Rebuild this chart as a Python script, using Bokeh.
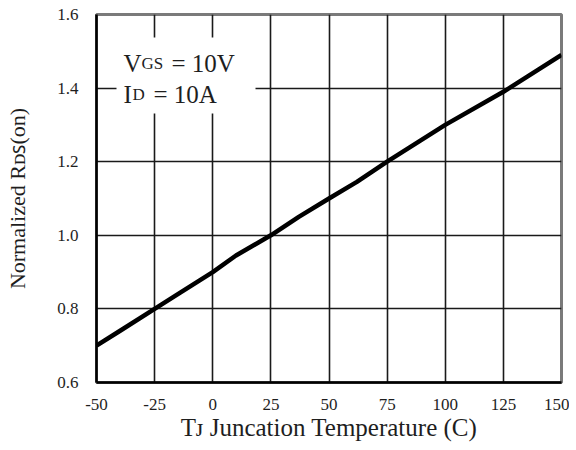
import math
from bokeh.plotting import figure
from bokeh.models import ColumnDataSource, Label, BoxAnnotation, FixedTicker
from bokeh.embed import file_html
from bokeh.resources import INLINE

# ---- data ----
temps = [-50, -40, -25, -15, 0, 10, 25, 37, 50, 62, 75, 100, 125, 150]
rds_on = [0.70, 0.74, 0.80, 0.84, 0.90, 0.945, 1.00, 1.05, 1.10, 1.145, 1.20, 1.30, 1.39, 1.49]
x_ticks = [-50, -25, 0, 25, 50, 75, 100, 125, 150]
x_tick_labels = ["-50", "-25", "0", "25", "50", "75", "100", "125", "150"]
y_ticks = [0.6, 0.8, 1.0, 1.2, 1.4, 1.6]
y_tick_labels = ["0.6", "0.8", "1.0", "1.2", "1.4", "1.6"]
x_title = "T\u1d0a Juncation Temperature (C)"
y_title = "Normalized R\u1d05\ua731(on)"

FONT = "Liberation Serif"
TXT = "#1e1e1e"

# frame geometry (in picture pixels) used to place annotations
FL, FR, FT, FB = 96, 561, 14, 382
X0, X1, Y0, Y1 = -50, 150, 0.6, 1.6


def px_x(px):
    return X0 + (px - FL) / (FR - FL) * (X1 - X0)


def px_y(py):
    return Y0 + (FB - py) / (FB - FT) * (Y1 - Y0)


p = figure(
    frame_width=FR - FL, frame_height=FB - FT,
    min_border_left=FL, min_border_right=8,
    min_border_top=FT, min_border_bottom=60,
    x_range=(X0, X1), y_range=(Y0, Y1),
    output_backend="svg", toolbar_location=None,
)
p.background_fill_color = "white"
p.border_fill_color = "white"
p.outline_line_color = "#7a7a7a"
p.outline_line_width = 3

for ax in (p.xaxis[0], p.yaxis[0]):
    ax.major_tick_line_color = None
    ax.minor_tick_line_color = None
    ax.axis_line_color = "black"
    ax.axis_line_width = 2.5
    ax.major_label_text_font = FONT
    ax.major_label_text_font_size = "17px"
    ax.major_label_text_color = TXT
    ax.axis_label_text_font = FONT
    ax.axis_label_text_font_style = "normal"
    ax.axis_label_text_color = TXT

p.xaxis[0].ticker = FixedTicker(ticks=x_ticks)
p.xaxis[0].major_label_overrides = {t: l for t, l in zip(x_ticks, x_tick_labels)}
p.xaxis[0].major_label_standoff = 10
p.xaxis[0].axis_label = x_title
p.xaxis[0].axis_label_text_font_size = "25px"
p.xaxis[0].axis_label_standoff = 1

p.yaxis[0].ticker = FixedTicker(ticks=y_ticks)
p.yaxis[0].major_label_overrides = {t: l for t, l in zip(y_ticks, y_tick_labels)}
p.yaxis[0].major_label_standoff = 12
p.yaxis[0].axis_label = y_title
p.yaxis[0].axis_label_text_font_size = "22px"
p.yaxis[0].axis_label_standoff = 24

p.xgrid[0].ticker = FixedTicker(ticks=x_ticks)
p.ygrid[0].ticker = FixedTicker(ticks=y_ticks)
for g in (p.xgrid[0], p.ygrid[0]):
    g.grid_line_color = "#1a1a1a"
    g.grid_line_width = 1.6

src = ColumnDataSource(data=dict(t=temps, r=rds_on))
p.line("t", "r", source=src, line_color="black", line_width=4.5)

# white box behind the condition text
p.add_layout(BoxAnnotation(left=px_x(116), right=px_x(255), top=px_y(37), bottom=px_y(113),
                           fill_color="white", fill_alpha=1.0, line_color=None))


def lab(text, px, py, size):
    p.add_layout(Label(x=px_x(px), y=px_y(py), text=text, text_font=FONT,
                       text_font_size=f"{size}px", text_color=TXT,
                       text_align="left", text_baseline="alphabetic"))


# condition text
lab("V", 123, 63, 25)
lab("GS", 141, 63, 17)
lab("= 10V", 171, 63, 25)
lab("I", 123, 94, 25)
lab("D", 132, 94, 17)
lab("= 10A", 153, 94, 25)

open("out.html", "w").write(file_html(p, INLINE))
